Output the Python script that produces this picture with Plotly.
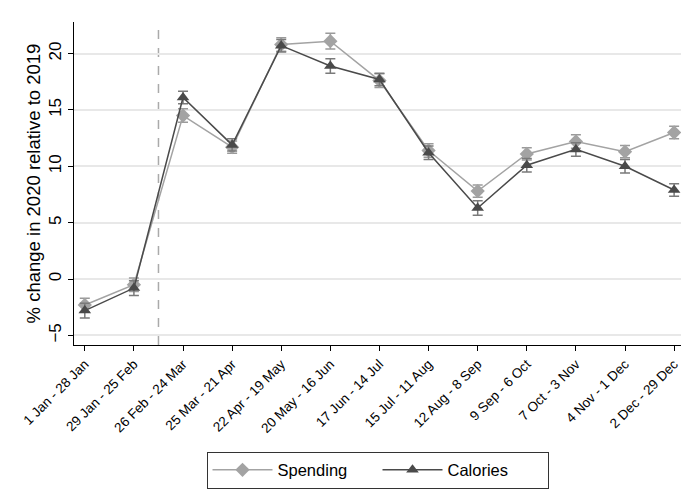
import plotly.graph_objects as go

periods = ["1 Jan - 28 Jan", "29 Jan - 25 Feb", "26 Feb - 24 Mar", "25 Mar - 21 Apr",
           "22 Apr - 19 May", "20 May - 16 Jun", "17 Jun - 14 Jul", "15 Jul - 11 Aug",
           "12 Aug - 8 Sep", "9 Sep - 6 Oct", "7 Oct - 3 Nov", "4 Nov - 1 Dec", "2 Dec - 29 Dec"]
spending = [-2.3, -0.5, 14.5, 11.7, 20.8, 21.1, 17.6, 11.4, 7.8, 11.1, 12.2, 11.3, 13.0]
spending_err = [0.6, 0.6, 0.6, 0.55, 0.6, 0.7, 0.6, 0.6, 0.55, 0.55, 0.6, 0.55, 0.55]
calories = [-2.8, -0.8, 16.1, 11.9, 20.7, 18.9, 17.7, 11.2, 6.3, 10.1, 11.5, 10.0, 7.9]
calories_err = [0.65, 0.65, 0.55, 0.55, 0.55, 0.65, 0.55, 0.6, 0.65, 0.6, 0.6, 0.6, 0.55]
y_ticks = [-5, 0, 5, 10, 15, 20]

x = list(range(len(periods)))

fig = go.Figure()
fig.add_trace(go.Scatter(
    x=x, y=spending, name="Spending", mode="lines+markers",
    line=dict(color="#a3a3a3", width=1.5),
    marker=dict(symbol="diamond", size=11, color="#a3a3a3"),
    error_y=dict(type="data", array=spending_err, color="#9a9a9a", thickness=1.5, width=5),
))
fig.add_trace(go.Scatter(
    x=x, y=calories, name="Calories", mode="lines+markers",
    line=dict(color="#4a4a4a", width=1.5),
    marker=dict(symbol="triangle-up", size=11, color="#4a4a4a"),
    error_y=dict(type="data", array=calories_err, color="#7a7a7a", thickness=1.5, width=5),
))

fig.add_shape(type="line", x0=1.5, x1=1.5, xref="x", y0=0, y1=1, yref="paper",
              line=dict(color="#aaaaaa", width=1.5, dash="dash"), layer="below")

fig.update_layout(
    width=691, height=502,
    margin=dict(l=74, r=10, t=22, b=157),
    paper_bgcolor="white", plot_bgcolor="white",
    font=dict(family="Liberation Sans, Arial, sans-serif", color="black"),
    showlegend=True,
    legend=dict(orientation="h", x=0.5, xanchor="center", y=-0.33, yanchor="top",
                bordercolor="#333333", borderwidth=1, font=dict(size=16.5, color="black"),
                itemwidth=60, entrywidth=95, tracegroupgap=0),
)
fig.update_xaxes(
    range=[-0.22, 12.14], tickmode="array", tickvals=x, ticktext=periods,
    tickangle=-45, tickfont=dict(size=13.5, color="black"), showgrid=False,
    showline=True, linecolor="black", linewidth=1, ticks="outside", ticklen=5,
    tickcolor="black", zeroline=False,
)
fig.update_yaxes(
    range=[-5.85, 22.8], tickvals=y_ticks, tickangle=-90, tickfont=dict(size=17, color="black"),
    showgrid=True, gridcolor="#e8e8e8", gridwidth=1.5,
    showline=True, linecolor="black", linewidth=1, ticks="outside", ticklen=5,
    tickcolor="black", zeroline=False,
    title=dict(text="% change in 2020 relative to 2019", font=dict(size=18.5, color="black"), standoff=0),
)

fig.write_html("out.html")
